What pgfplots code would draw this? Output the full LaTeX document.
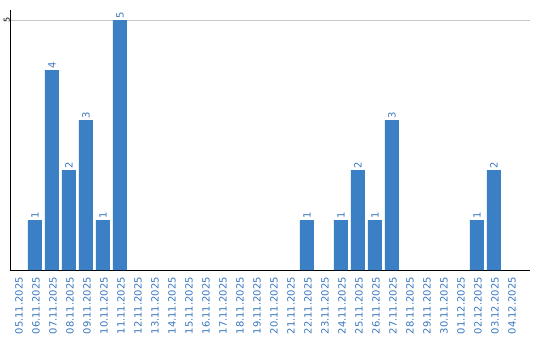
\documentclass[border=0pt]{standalone}
\usepackage{pgfplots}
\pgfplotsset{compat=1.18}
\usepackage{fontspec}
\setmainfont{DejaVu Sans}
\definecolor{barblue}{RGB}{59,127,196}
\definecolor{lblblue}{RGB}{58,120,192}
\begin{document}
\begin{tikzpicture}
\path[use as bounding box] (-10bp,-70bp) rectangle (530bp,270bp);
\begin{axis}[
  at={(0,0)}, anchor=south west,
  scale only axis, width=520bp, height=260bp,
  xmin=-0.47, xmax=30.12, ymin=0, ymax=5.2,
  /pgf/number format/assume math mode=true,
  axis lines*=left,
  axis line style={black, line width=1pt},
  major tick length=0pt,
  ytick={5}, ymajorgrids, grid style={color=black!22, line width=0.8pt},
  yticklabel style={rotate=90, anchor=south, font=\fontsize{8}{9}\selectfont, inner sep=1bp, yshift=-1bp},
  xtick={0,...,29},
  xticklabels={05.11.2025,06.11.2025,07.11.2025,08.11.2025,09.11.2025,10.11.2025,11.11.2025,12.11.2025,13.11.2025,14.11.2025,15.11.2025,16.11.2025,17.11.2025,18.11.2025,19.11.2025,20.11.2025,21.11.2025,22.11.2025,23.11.2025,24.11.2025,25.11.2025,26.11.2025,27.11.2025,28.11.2025,29.11.2025,30.11.2025,01.12.2025,02.12.2025,03.12.2025,04.12.2025},
  xticklabel style={rotate=90, anchor=east, text=lblblue, font=\fontsize{10}{11}\selectfont, inner sep=0pt, xshift=-7bp, yshift=-1bp},
  ybar, bar width=14bp,
  nodes near coords,
  nodes near coords style={rotate=90, anchor=west, text=lblblue, inner sep=1.5bp, font=\fontsize{10}{11}\selectfont},
  clip=false,
]
\addplot[fill=barblue, draw=none] coordinates {
(1,1) (2,4) (3,2) (4,3) (5,1) (6,5) (17,1) (19,1) (20,2) (21,1) (22,3) (27,1) (28,2)
};
\end{axis}
\end{tikzpicture}
\end{document}
